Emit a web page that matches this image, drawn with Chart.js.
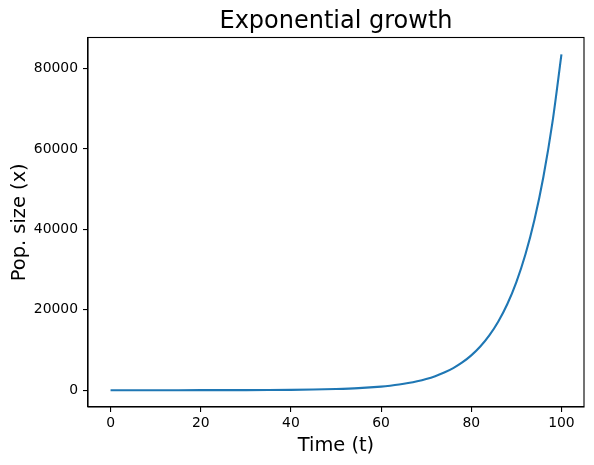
<!DOCTYPE html>
<html>
<head>
    <title>Exponential growth</title>
    <script src="https://cdn.jsdelivr.net/npm/chart.js"></script>
    <style>
        body { margin: 0; background: #ffffff; }
        canvas { display: block; }
    </style>
</head>
<body>
<canvas id="growthChart" width="594" height="465"></canvas>
<script>
    // values
    const times = [0, 5, 10, 15, 20, 25, 30, 35, 40, 45, 50, 55, 60,
        62, 64, 66, 68, 70, 72, 74, 76, 78, 80, 82, 84, 86, 88, 90, 92, 94, 96, 98, 100];
    const popSize = [1, 2, 3, 5, 10, 17, 30, 53, 93, 164, 289, 509, 898,
        1126, 1412, 1772, 2222, 2788, 3497, 4387, 5503, 6902, 8659, 10861, 13624,
        17090, 21437, 26892, 33733, 42315, 53079, 66581, 83522];
    const xTicks = [0, 20, 40, 60, 80, 100];
    const yTicks = [0, 20000, 40000, 60000, 80000];
    const xRange = [-5, 105];
    const yRange = [-4176, 87699];
    const chartTitle = 'Exponential growth';

    const font = 'DejaVu Sans';

    // box on all four sides + title centred over the axes, like matplotlib
    const frame = {
        id: 'frame',
        afterDraw(chart) {
            const { ctx, chartArea: a } = chart;
            ctx.save();
            ctx.strokeStyle = '#000';
            ctx.lineWidth = 1.1;
            ctx.strokeRect(a.left, a.top, a.right - a.left, a.bottom - a.top);
            ctx.fillStyle = '#000';
            ctx.font = '24px "' + font + '"';
            ctx.textAlign = 'center';
            ctx.textBaseline = 'alphabetic';
            ctx.fillText(chartTitle, (a.left + a.right) / 2, 28);
            ctx.restore();
        }
    };

    new Chart(document.getElementById('growthChart').getContext('2d'), {
        type: 'line',
        data: {
            datasets: [{
                data: times.map((t, i) => ({ x: t, y: popSize[i] })),
                borderColor: '#1f77b4',
                borderWidth: 2.1,
                pointRadius: 0,
                cubicInterpolationMode: 'monotone',
                fill: false
            }]
        },
        options: {
            responsive: false,
            animation: false,
            layout: { padding: { left: 0, right: 10, top: 37.5, bottom: 0 } },
            plugins: {
                legend: { display: false },
                tooltip: { enabled: false },
                title: { display: false }
            },
            scales: {
                x: {
                    type: 'linear',
                    min: xRange[0],
                    max: xRange[1],
                    afterBuildTicks: s => { s.ticks = xTicks.map(v => ({ value: v })); },
                    afterFit: s => { s.height = 58; },
                    ticks: {
                        color: '#000',
                        padding: 3,
                        maxRotation: 0,
                        font: { family: font, size: 13.9 },
                        callback: v => String(v)
                    },
                    grid: { drawOnChartArea: false, drawTicks: true, tickLength: 5, color: '#000', lineWidth: 1.1 },
                    border: { display: true, color: '#000', width: 1.1 },
                    title: {
                        display: true,
                        text: 'Time (t)',
                        color: '#000',
                        font: { family: font, size: 19.4, lineHeight: 1.2 },
                        padding: { top: 0, bottom: 7 }
                    }
                },
                y: {
                    type: 'linear',
                    min: yRange[0],
                    max: yRange[1],
                    afterBuildTicks: s => { s.ticks = yTicks.map(v => ({ value: v })); },
                    afterFit: s => { s.width = 88; },
                    ticks: {
                        color: '#000',
                        padding: 5,
                        font: { family: font, size: 13.9 },
                        callback: v => String(v)
                    },
                    grid: { drawOnChartArea: false, drawTicks: true, tickLength: 5, color: '#000', lineWidth: 1.1 },
                    border: { display: true, color: '#000', width: 1.1 },
                    title: {
                        display: true,
                        text: 'Pop. size (x)',
                        color: '#000',
                        font: { family: font, size: 19.4, lineHeight: 1.2 },
                        padding: { top: 8, bottom: 0 }
                    }
                }
            }
        },
        plugins: [frame]
    });
</script>
</body>
</html>
